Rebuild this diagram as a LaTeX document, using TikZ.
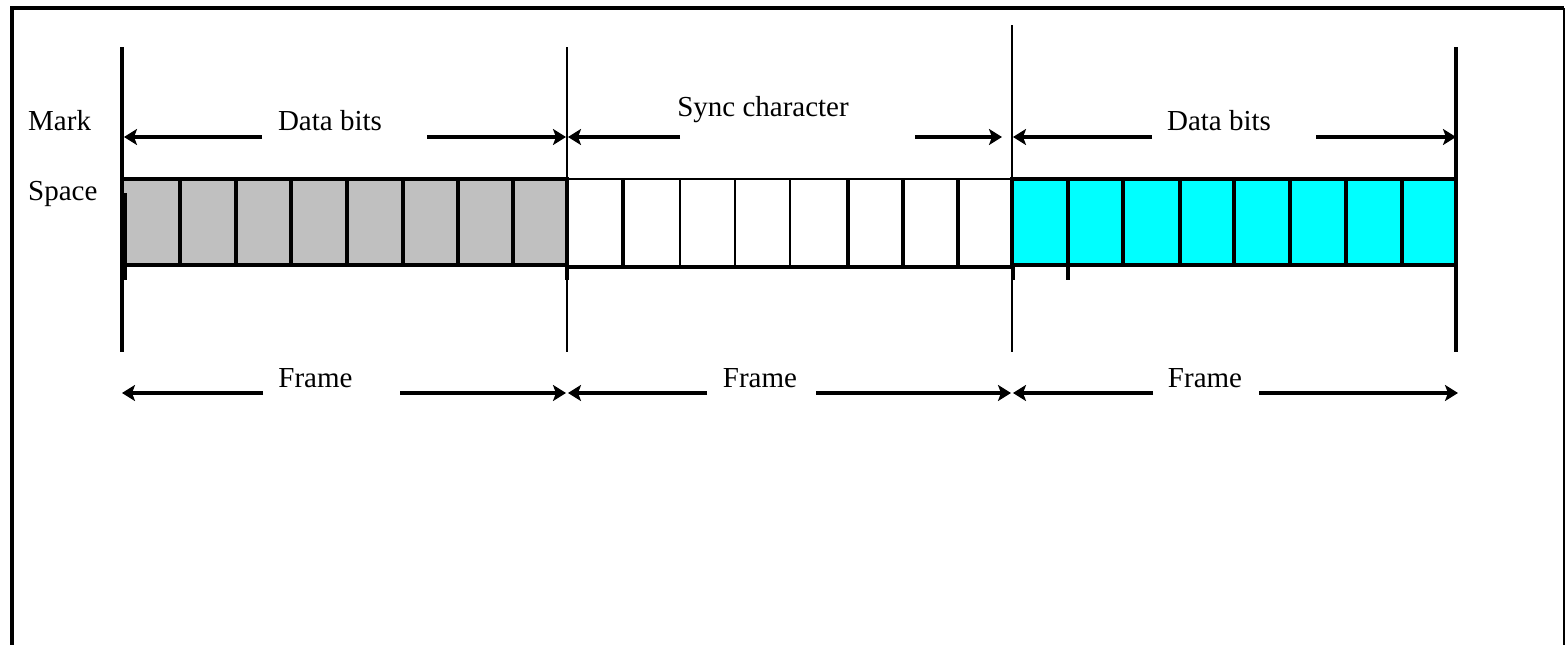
\documentclass[tikz,border=0pt]{standalone}
\usepackage{fontspec}
\setmainfont{Liberation Serif}
\usetikzlibrary{arrows.meta}
\definecolor{bitgray}{RGB}{192,192,192}
\definecolor{bitcyan}{RGB}{0,255,255}
\begin{document}
\begin{tikzpicture}[x=1pt,y=-1pt,
  lbl/.style={font=\fontsize{29}{34}\selectfont, inner sep=0pt, anchor=base},
  dimarrow/.style={line width=4pt, -{Stealth[length=13pt,width=16pt,inset=3pt]}},
  heavyrule/.style={line width=4pt},
  lightrule/.style={line width=1.8pt},
  cellrule/.style={line width=3.6pt},
  finecell/.style={line width=2.2pt},
]
\useasboundingbox (0,0) rectangle (1566,645);

% page border
\draw[line width=3.5pt] (12,645) -- (12,8) -- (1564,8);
\draw[line width=1.8pt] (1564,8) -- (1564,645);

% frame boundaries
\coordinate (t0) at (122,47);   \coordinate (u0) at (122,352);
\coordinate (t1) at (567,47);   \coordinate (u1) at (567,352);
\coordinate (t2) at (1012,25);  \coordinate (u2) at (1012,352);
\coordinate (t3) at (1456,47);  \coordinate (u3) at (1456,352);
\draw[heavyrule] (t0) -- (u0);
\draw[lightrule] (t1) -- (u1);
\draw[lightrule] (t2) -- (u2);
\draw[heavyrule] (t3) -- (u3);

% level labels
\node[lbl, anchor=base west] (mark) at (28,130) {Mark};
\node[lbl, anchor=base west] (space) at (28,200) {Space};

% first data character (grey)
\fill[bitgray] (122,179) rectangle (567,265);
\draw[cellrule] (122,179) rectangle (567,265);
\foreach \x in {180,236,291,347,403,458,513}
  \draw[cellrule] (\x,179) -- (\x,267);

% sync character (white)
\draw[finecell] (567,179) -- (1012,179);
\draw[cellrule] (567,267) -- (1012,267);
\foreach \x in {623,848,903,958}
  \draw[cellrule] (\x,179) -- (\x,267);
\foreach \x in {680,735,790}
  \draw[finecell] (\x,179) -- (\x,267);

% second data character (cyan)
\fill[bitcyan] (1012,179) rectangle (1456,265);
\draw[cellrule] (1012,179) rectangle (1456,265);
\foreach \x in {1068,1123,1180,1234,1290,1346,1402}
  \draw[cellrule] (\x,179) -- (\x,267);

% short stubs below the bit rows
\draw[cellrule] (125,193) -- (125,280);
\draw[cellrule] (567,265) -- (567,280);
\draw[cellrule] (1013,265) -- (1013,280);
\draw[cellrule] (1068,265) -- (1068,280);

% character labels and their extents
\node[lbl] (data1) at (330,130) {Data bits};
\node[lbl] (sync) at (763,116) {Sync character};
\node[lbl] (data2) at (1219,130) {Data bits};

\coordinate (d1a) at (262,137);  \coordinate (d1e) at (124,137);
\coordinate (d1b) at (427,137);  \coordinate (d1f) at (566,137);
\coordinate (sa)  at (680,137);  \coordinate (se)  at (568,137);
\coordinate (sb)  at (915,137);  \coordinate (sf)  at (1002,137);
\coordinate (d2a) at (1152,137); \coordinate (d2e) at (1013,137);
\coordinate (d2b) at (1316,137); \coordinate (d2f) at (1456,137);
\draw[dimarrow] (d1a) -- (d1e);
\draw[dimarrow] (d1b) -- (d1f);
\draw[dimarrow] (sa) -- (se);
\draw[dimarrow] (sb) -- (sf);
\draw[dimarrow] (d2a) -- (d2e);
\draw[dimarrow] (d2b) -- (d2f);

% frame labels and their extents
\node[lbl] (frame1) at (315.5,387) {Frame};
\node[lbl] (frame2) at (760,387) {Frame};
\node[lbl] (frame3) at (1205,387) {Frame};

\coordinate (f1a) at (263,393);  \coordinate (f1e) at (122,393);
\coordinate (f1b) at (400,393);  \coordinate (f1f) at (566,393);
\coordinate (f2a) at (707,393);  \coordinate (f2e) at (568,393);
\coordinate (f2b) at (816,393);  \coordinate (f2f) at (1011,393);
\coordinate (f3a) at (1153,393); \coordinate (f3e) at (1013,393);
\coordinate (f3b) at (1259,393); \coordinate (f3f) at (1458,393);
\draw[dimarrow] (f1a) -- (f1e);
\draw[dimarrow] (f1b) -- (f1f);
\draw[dimarrow] (f2a) -- (f2e);
\draw[dimarrow] (f2b) -- (f2f);
\draw[dimarrow] (f3a) -- (f3e);
\draw[dimarrow] (f3b) -- (f3f);
\end{tikzpicture}
\end{document}
